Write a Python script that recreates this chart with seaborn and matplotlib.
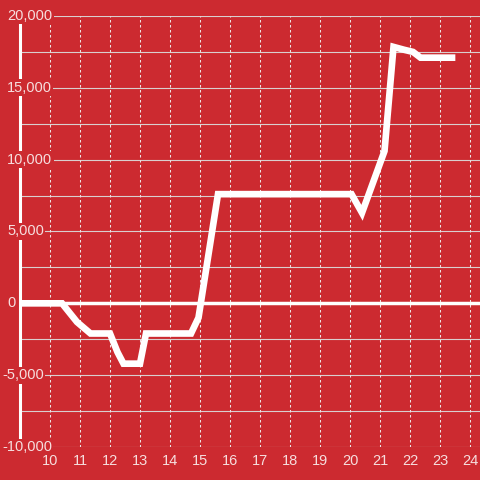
import matplotlib
matplotlib.use('Agg')
import matplotlib.pyplot as plt
import matplotlib.transforms as mtransforms
import seaborn as sns

# values
x_vals = [9.0, 10.4, 10.9, 11.35, 12.0, 12.25, 12.45, 13.0, 13.2, 14.7, 14.95,
          15.6, 20.05, 20.4, 21.15, 21.45, 21.8, 22.1, 22.35, 23.4]
y_vals = [0, 0, -1300, -2100, -2100, -3400, -4200, -4200, -2100, -2100, -1000,
          7600, 7600, 6300, 10600, 17850, 17650, 17500, 17100, 17100]

y_ticks = [-10000, -5000, 0, 5000, 10000, 15000, 20000]
y_labels = ['-10,000', '-5,000', '0', '5,000', '10,000', '15,000', '20,000']
x_ticks = list(range(10, 25))

bg = '#cc2a30'
txt = '#f6dede'

sns.set_style('white')
plt.rcParams['font.family'] = ['Liberation Sans', 'DejaVu Sans']

fig = plt.figure(figsize=(4.8, 4.8), dpi=100)
fig.patch.set_facecolor(bg)
ax = fig.add_axes([20 / 480, 33 / 480, 460 / 480, 431 / 480])
ax.set_facecolor(bg)

ax.set_xlim(9, 24.333)
ax.set_ylim(-10000, 20000)

# grid
for yv in range(-10000, 20001, 2500):
    ax.axhline(yv, color='#d9cfcf', lw=0.8, zorder=1)
for xv in x_ticks:
    ax.axvline(xv, color='#ece4e4', lw=0.75, ls=(0, (2.4, 2.4)), zorder=1)
ax.axhline(0, color='white', lw=2.5, zorder=2)

sns.lineplot(x=x_vals, y=y_vals, ax=ax, color='white', lw=4.8, sort=False,
             estimator=None, zorder=4)
ax.lines[-1].set_solid_capstyle('projecting')
ax.lines[-1].set_solid_joinstyle('miter')

for s in ['top', 'right', 'bottom']:
    ax.spines[s].set_visible(False)
ax.spines['left'].set_color('white')
ax.spines['left'].set_linewidth(2.2)
ax.spines['left'].set_zorder(3)

ax.set_yticks([])
ax.set_xticks(x_ticks)
ax.set_xticklabels([str(v) for v in x_ticks], color=txt, fontsize=10.5)
ax.tick_params(axis='x', length=0, pad=5)

trans = mtransforms.blended_transform_factory(fig.transFigure, ax.transData)
for yv, lab in zip(y_ticks, y_labels):
    x0 = 2 / 480 if yv < 0 else 7 / 480
    ax.text(x0, yv, lab, transform=trans, ha='left', va='center', color=txt,
            fontsize=10.5, zorder=5, clip_on=False,
            bbox=dict(facecolor=bg, edgecolor='none', pad=1))

fig.savefig('out.png', dpi=100, facecolor=bg)
